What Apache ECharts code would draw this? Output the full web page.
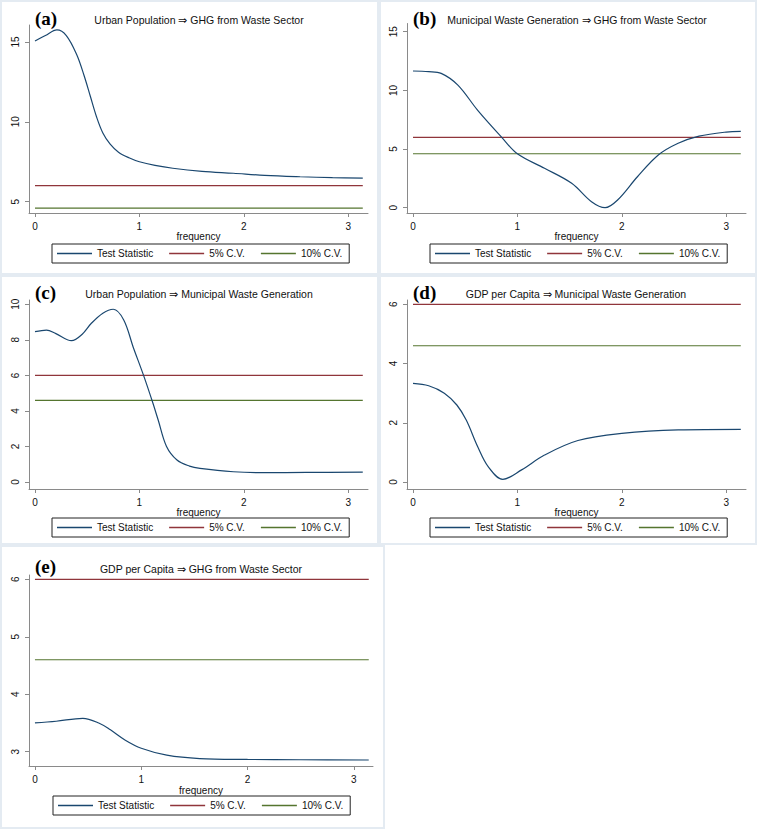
<!DOCTYPE html>
<html>
<head>
<meta charset="utf-8">
<script src="https://cdn.jsdelivr.net/npm/echarts@6/dist/echarts.min.js"></script>
<style>
html,body{margin:0;padding:0;background:#fff;}
#chart{width:758px;height:830px;}
</style>
</head>
<body>
<div id="chart"></div>
<script>
// ---------- data ----------
const seriesNames = ['Test Statistic', '5% C.V.', '10% C.V.'];
const panelLetters = ['(a)', '(b)', '(c)', '(d)', '(e)'];
const panelTitles = [
  'Urban Population \u21D2 GHG from Waste Sector',
  'Municipal Waste Generation \u21D2 GHG from Waste Sector',
  'Urban Population \u21D2 Municipal Waste Generation',
  'GDP per Capita \u21D2 Municipal Waste Generation',
  'GDP per Capita \u21D2 GHG from Waste Sector'
];
const xTicks = [0, 1, 2, 3];
const yTicksA = [5, 10, 15];
const yTicksB = [0, 5, 10, 15];
const yTicksC = [0, 2, 4, 6, 8, 10];
const yTicksD = [0, 2, 4, 6];
const yTicksE = [3, 4, 5, 6];
const cv5 = 6.0;
const cv10 = 4.6;
const freqRange = [0, 3.14];

const freqA = [0, 0.1, 0.21, 0.3, 0.4, 0.47, 0.53, 0.59, 0.65, 0.72, 0.8, 0.9, 1.0, 1.15, 1.32, 1.6, 1.9, 2.2, 2.54, 2.85, 3.14];
const statA = [15.06, 15.4, 15.75, 15.4, 14.2, 12.9, 11.6, 10.3, 9.3, 8.6, 8.1, 7.75, 7.5, 7.27, 7.09, 6.9, 6.78, 6.65, 6.56, 6.5, 6.47];

const freqB = [0, 0.15, 0.27, 0.43, 0.62, 0.85, 1.0, 1.26, 1.52, 1.71, 1.84, 1.96, 2.15, 2.35, 2.54, 2.74, 3.0, 3.14];
const statB = [11.65, 11.6, 11.45, 10.45, 8.3, 6.0, 4.6, 3.36, 2.08, 0.51, 0.0, 0.66, 2.64, 4.49, 5.49, 6.1, 6.45, 6.5];

const freqC = [0, 0.11, 0.2, 0.35, 0.45, 0.54, 0.65, 0.75, 0.85, 0.94, 1.04, 1.13, 1.18, 1.26, 1.36, 1.48, 1.58, 1.9, 2.2, 2.6, 3.14];
const statC = [8.46, 8.55, 8.35, 7.95, 8.3, 8.93, 9.5, 9.72, 9.12, 7.6, 6.0, 4.43, 3.49, 2.0, 1.24, 0.9, 0.77, 0.58, 0.53, 0.54, 0.56];

const freqD = [0, 0.15, 0.3, 0.42, 0.51, 0.62, 0.72, 0.86, 1.04, 1.26, 1.58, 2.0, 2.54, 3.14];
const statD = [3.33, 3.25, 3.0, 2.6, 2.09, 1.19, 0.52, 0.09, 0.41, 0.91, 1.40, 1.64, 1.76, 1.78];

const freqE = [0, 0.2, 0.45, 0.6, 0.71, 0.85, 1.0, 1.24, 1.55, 2.0, 2.5, 3.14];
const statE = [3.50, 3.53, 3.58, 3.5, 3.38, 3.2, 3.06, 2.94, 2.88, 2.865, 2.86, 2.855];

// ---------- layout (pixels / axis extents) ----------
const layouts = [
  {freq: freqA, stat: statA, yTicks: yTicksA, grid: {left: 29, top: 25, width: 339, height: 188}, x: [-0.0575, 3.19], y: [4.29, 16.06],
   legend: {left: 52, top: 244}, nameGap: 18, title: [199, 20], letter: [35, 18], box: [1, 1, 377, 273]},
  {freq: freqB, stat: statB, yTicks: yTicksB, grid: {left: 407, top: 23.5, width: 339, height: 189.5}, x: [-0.0575, 3.19], y: [-0.45, 15.7],
   legend: {left: 430, top: 244}, nameGap: 18, title: [577, 20], letter: [413, 18], box: [380, 1, 376, 273]},
  {freq: freqC, stat: statC, yTicks: yTicksC, grid: {left: 29, top: 300, width: 339, height: 189}, x: [-0.0575, 3.19], y: [-0.39, 10.24],
   legend: {left: 52, top: 518}, nameGap: 17, title: [199, 294], letter: [35, 292.5], box: [1, 276, 377, 268]},
  {freq: freqD, stat: statD, yTicks: yTicksD, grid: {left: 407, top: 300, width: 339, height: 189}, x: [-0.0575, 3.19], y: [-0.236, 6.145],
   legend: {left: 430, top: 518}, nameGap: 17, title: [576, 294], letter: [413, 292.5], box: [380, 276, 376, 268]},
  {freq: freqE, stat: statE, yTicks: yTicksE, grid: {left: 29, top: 575, width: 344, height: 191}, x: [-0.056, 3.18], y: [2.751, 6.075],
   legend: {left: 53, top: 796}, nameGap: 19, title: [201, 569], letter: [35, 566.7], box: [1, 546, 383, 282]}
];

const colors = ['#1a476f', '#90353b', '#55752f'];
const axisColor = '#8a8a8a';
const font = "'Liberation Sans', Arial, sans-serif";

const grids = [], xAxes = [], yAxes = [], series = [], legends = [], graphics = [];

layouts.forEach((p, i) => {
  grids.push(Object.assign({containLabel: false}, p.grid));
  xAxes.push({
    type: 'value', gridIndex: i, min: p.x[0], max: p.x[1],
    name: 'frequency', nameLocation: 'middle', nameGap: p.nameGap,
    nameTextStyle: {fontFamily: font, fontSize: 10, color: '#111', verticalAlign: 'top'},
    axisLine: {show: true, onZero: false, lineStyle: {color: axisColor, width: 1}},
    axisTick: {show: true, length: 4, lineStyle: {color: axisColor}, customValues: xTicks},
    axisLabel: {show: true, margin: 8, fontFamily: font, fontSize: 10, color: '#111', customValues: xTicks},
    splitLine: {show: false}
  });
  yAxes.push({
    type: 'value', gridIndex: i, min: p.y[0], max: p.y[1],
    axisLine: {show: true, onZero: false, lineStyle: {color: axisColor, width: 1}},
    axisTick: {show: true, length: 4, lineStyle: {color: axisColor}, customValues: p.yTicks},
    axisLabel: {show: true, rotate: 90, margin: 9, fontFamily: font, fontSize: 10, color: '#111', customValues: p.yTicks},
    splitLine: {show: false}
  });
  series.push({
    name: seriesNames[0], type: 'line', xAxisIndex: i, yAxisIndex: i,
    data: p.freq.map((f, k) => [f, p.stat[k]]),
    smooth: 0.35, symbol: 'none', lineStyle: {color: colors[0], width: 1.2}, itemStyle: {color: colors[0]}, z: 3
  });
  series.push({
    name: seriesNames[1], type: 'line', xAxisIndex: i, yAxisIndex: i,
    data: freqRange.map(f => [f, cv5]),
    symbol: 'none', lineStyle: {color: colors[1], width: 1.2}, itemStyle: {color: colors[1]}, z: 2
  });
  series.push({
    name: seriesNames[2], type: 'line', xAxisIndex: i, yAxisIndex: i,
    data: freqRange.map(f => [f, cv10]),
    symbol: 'none', lineStyle: {color: colors[2], width: 1.2}, itemStyle: {color: colors[2]}, z: 2
  });
  legends.push({
    data: seriesNames, left: p.legend.left, top: p.legend.top, orient: 'horizontal',
    borderColor: '#222', borderWidth: 1, borderRadius: 0, padding: [4, 7, 4, 5],
    icon: 'rect', itemWidth: 35, itemHeight: 1.3, itemGap: 16, selectedMode: false,
    textStyle: {fontFamily: font, fontSize: 10, color: '#111', lineHeight: 11}
  });
  graphics.push({
    type: 'rect', silent: true, z: -10,
    shape: {x: p.box[0], y: p.box[1], width: p.box[2], height: p.box[3]},
    style: {fill: 'none', stroke: '#e4ebf2', lineWidth: 2}
  });
  graphics.push({
    type: 'text', silent: true, x: p.title[0], y: p.title[1],
    style: {text: panelTitles[i], fontFamily: font, fontSize: 10.5, fill: '#111', textAlign: 'center', textVerticalAlign: 'middle'}
  });
  graphics.push({
    type: 'text', silent: true, x: p.letter[0], y: p.letter[1],
    style: {text: panelLetters[i], fontFamily: "'Liberation Serif', 'Times New Roman', serif", fontWeight: 'bold', fontSize: 19, fill: '#000', textAlign: 'left', textVerticalAlign: 'middle'}
  });
});

const chart = echarts.init(document.getElementById('chart'), null, {renderer: 'svg'});
chart.setOption({
  animation: false,
  backgroundColor: '#ffffff',
  grid: grids, xAxis: xAxes, yAxis: yAxes, series: series, legend: legends,
  graphic: graphics
});
</script>
</body>
</html>
